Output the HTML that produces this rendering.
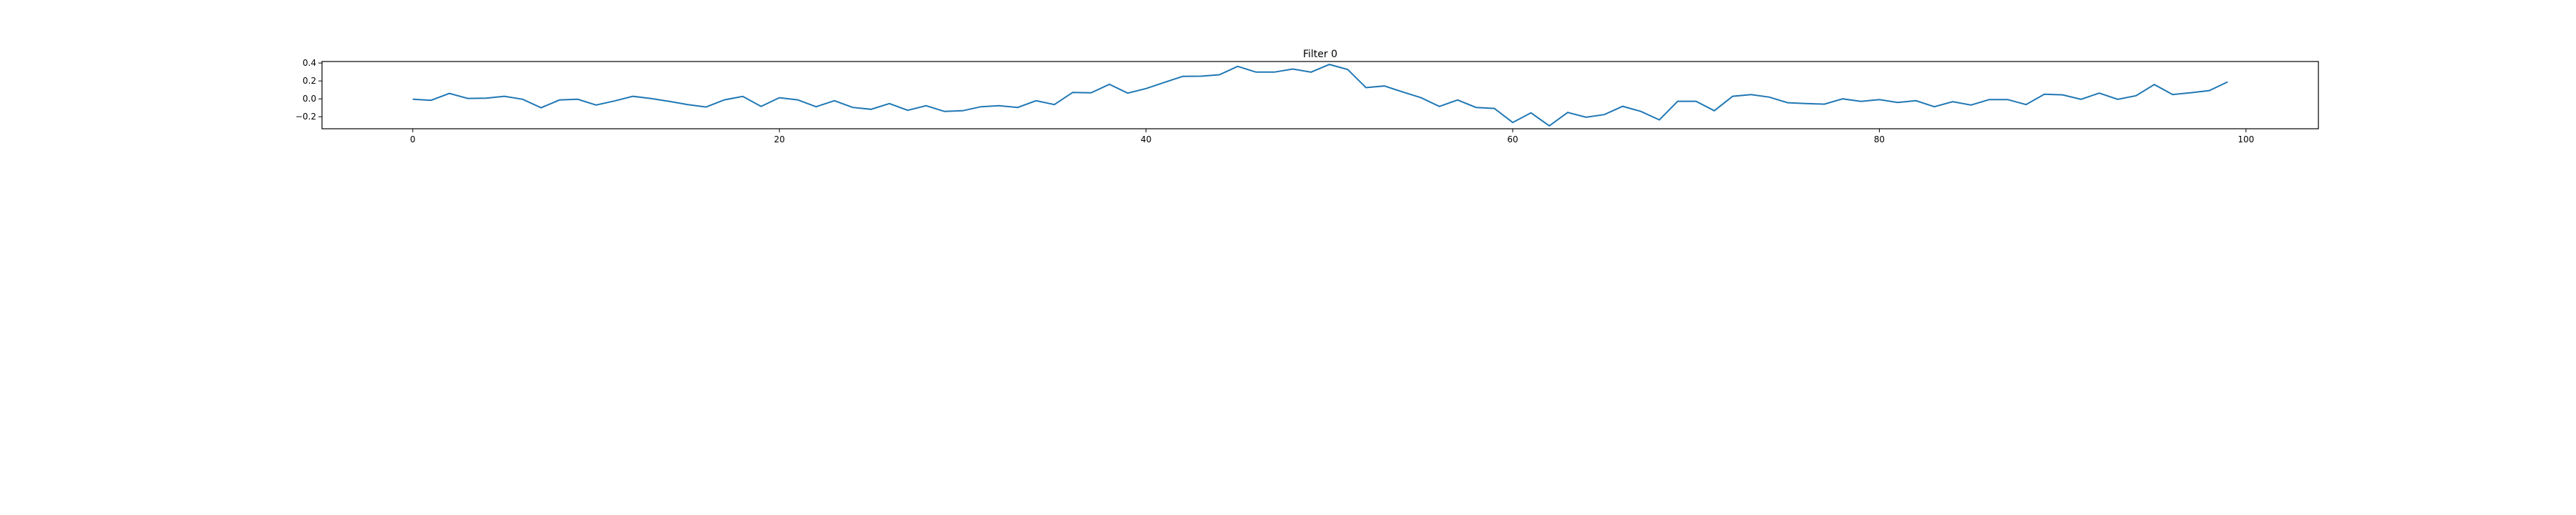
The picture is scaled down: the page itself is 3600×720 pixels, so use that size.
<!DOCTYPE html>
<html><head><meta charset="utf-8"><style>
html,body{margin:0;padding:0;background:#fff;}
svg{display:block;font-family:"DejaVu Sans","Liberation Sans",sans-serif;}
</style></head><body>
<svg id="chart" width="3600" height="720" viewBox="0 0 3600 720">
<rect width="3600" height="720" fill="#fff"/>
<text x="1845" y="80" text-anchor="middle" font-size="14" fill="#000">Filter 0</text>
<g id="ticks"></g>
<polyline id="line" fill="none" stroke="#1f77b4" stroke-width="2"/>
<rect x="450" y="86" width="2790" height="94" fill="none" stroke="#000" stroke-width="1.2"/>
</svg>
<script>
const values = [-0.005,-0.016,0.061,0.005,0.008,0.029,-0.005,-0.099,-0.013,-0.005,
-0.069,-0.024,0.029,0.003,-0.029,-0.064,-0.091,-0.011,0.027,-0.085,
0.013,-0.011,-0.088,-0.021,-0.096,-0.117,-0.053,-0.128,-0.077,-0.141,
-0.133,-0.088,-0.077,-0.096,-0.021,-0.064,0.072,0.067,0.163,0.064,
0.115,0.184,0.251,0.253,0.269,0.363,0.299,0.299,0.333,0.299,
0.384,0.328,0.125,0.144,0.077,0.013,-0.085,-0.013,-0.096,-0.107,
-0.264,-0.157,-0.301,-0.152,-0.205,-0.176,-0.083,-0.141,-0.235,-0.027,
-0.027,-0.133,0.029,0.048,0.019,-0.043,-0.053,-0.059,0.0,-0.029,
-0.008,-0.040,-0.021,-0.088,-0.032,-0.069,-0.008,-0.008,-0.064,0.051,
0.045,-0.005,0.064,-0.005,0.035,0.160,0.048,0.069,0.093,0.189];
const xTicks = [0,20,40,60,80,100];
const yTicks = [0.4,0.2,0.0,-0.2];
const yTickLabels = ["0.4","0.2","0.0","\u22120.2"];
const X0=450,X1=3240,Y0=86,Y1=180,XMIN=-4.95,XMAX=103.95,YMIN=-0.334,YMAX=0.417;
function sx(v){return X0+(v-XMIN)/(XMAX-XMIN)*(X1-X0);}
function sy(v){return Y1-(v-YMIN)/(YMAX-YMIN)*(Y1-Y0);}
const NS="http://www.w3.org/2000/svg";
document.getElementById('line').setAttribute('points',values.map((v,i)=>sx(i).toFixed(1)+','+sy(v).toFixed(1)).join(' '));
const g=document.getElementById('ticks');
xTicks.forEach(t=>{
 const l=document.createElementNS(NS,'line');
 l.setAttribute('x1',sx(t));l.setAttribute('x2',sx(t));l.setAttribute('y1',Y1);l.setAttribute('y2',Y1+5);l.setAttribute('stroke','#000');
 
 
 g.appendChild(l);
 const tx=document.createElementNS(NS,'text');
 tx.setAttribute('x',sx(t));tx.setAttribute('y',Y1+19);tx.setAttribute('text-anchor','middle');tx.setAttribute('font-size','12');
 tx.textContent=t;
 
 
 g.appendChild(tx);
});
yTicks.forEach((t,i)=>{
 const l=document.createElementNS(NS,'line');
 l.setAttribute('x1',X0-5);l.setAttribute('x2',X0);l.setAttribute('y1',sy(t));l.setAttribute('y2',sy(t));l.setAttribute('stroke','#000');
 
 
 g.appendChild(l);
 const tx=document.createElementNS(NS,'text');
 tx.setAttribute('x',X0-8);tx.setAttribute('y',sy(t)+4);tx.setAttribute('text-anchor','end');tx.setAttribute('font-size','12');
 tx.textContent=yTickLabels[i];
 
 
 g.appendChild(tx);
});
</script>
</body></html>
